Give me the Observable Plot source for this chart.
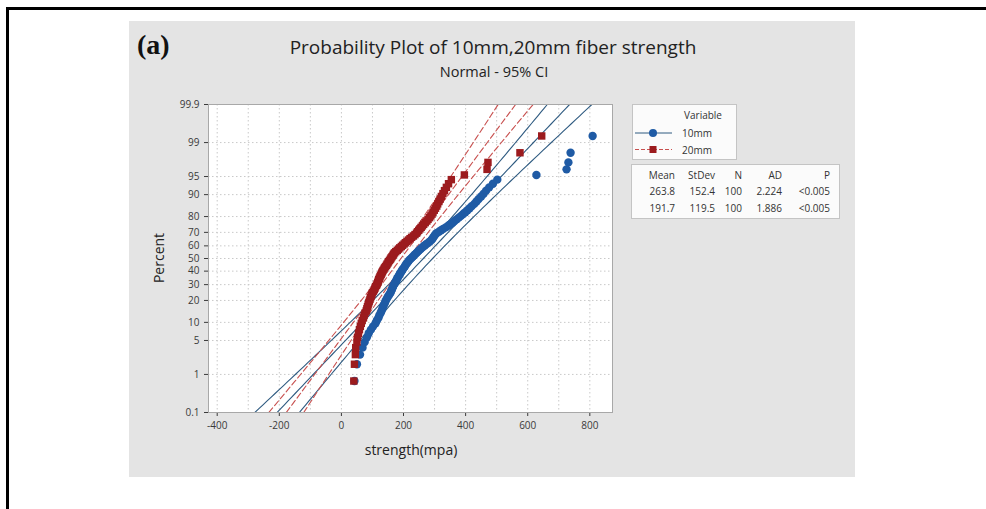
<!DOCTYPE html>
<html>
<head>
<meta charset="utf-8">
<script src="https://cdn.jsdelivr.net/npm/d3@7"></script>
<script src="https://cdn.jsdelivr.net/npm/@observablehq/plot@0.6"></script>
<style>
  html, body { margin: 0; padding: 0; background: #fff; }
  #wrap { position: relative; width: 986px; height: 509px; overflow: hidden; font-family: "Open Sans", sans-serif; color: #333; }
  .abs { position: absolute; white-space: nowrap; line-height: 1; }
  #border { position: absolute; left: 6px; top: 7px; width: 1000px; height: 600px; border-top: 3px solid #000; border-left: 3px solid #000; }
  #panel { position: absolute; left: 129px; top: 21px; width: 726px; height: 456px; background: #e4e4e4; }
  #chart { position: absolute; left: 0; top: 0; }
  .box { position: absolute; background: #fbfbfb; border: 1px solid #c4c4c4; }
</style>
</head>
<body>
<div id="wrap">
  <div id="border"></div>
  <div id="panel"></div>
  <div id="chart"></div>
</div>
<script>
// ---------- data ----------
const seriesNames = ["10mm", "20mm"];
const seriesColors = ["#1f5ba5", "#9c1b1e"];
const lineColors = ["#2e5a80", "#c8504f"];

// sorted strength values (MPa), 100 samples each
const values10mm = [
  42, 50, 60, 68, 75, 82, 88, 95, 102, 110,
  114, 119, 122, 126, 129, 132, 134, 137, 140, 142,
  145, 148, 151, 155, 158, 160, 162, 164, 166, 168,
  171, 173, 176, 178, 180, 183, 185, 188, 190, 193,
  195, 198, 201, 204, 206, 209, 212, 215, 218, 222,
  226, 230, 234, 238, 242, 246, 250, 255, 259, 264,
  269, 274, 280, 285, 290, 293, 296, 299, 302, 306,
  314, 321, 328, 336, 344, 351, 358, 364, 371, 378,
  385, 392, 399, 406, 413, 420, 428, 435, 442, 450,
  458, 466, 476, 488, 502,
  628, 725, 731, 738, 809
];
const values20mm = [
  40, 42, 45, 46, 50, 52, 55, 58, 61, 64,
  67, 71, 73, 76, 80, 82, 84, 86, 88, 90,
  92, 94, 96, 98, 100, 103, 106, 108, 110, 113,
  115, 117, 119, 120, 122, 124, 126, 128, 130, 132,
  134, 137, 139, 142, 145, 147, 150, 152, 155, 158,
  160, 163, 166, 168, 171, 175, 180, 184, 188, 193,
  197, 202, 206, 211, 216, 221, 226, 232, 237, 242,
  245, 249, 253, 257, 261, 265, 270, 275, 279, 284,
  288, 292, 295, 299, 303, 307, 310, 314, 318, 322,
  327, 332, 338, 345, 354,
  396, 469, 472, 575, 645
];

// summary statistics shown in the table
const statHeaders = ["Mean", "StDev", "N", "AD", "P"];
const statMean = [263.8, 191.7];
const statStDev = [152.4, 119.5];
const statN = [100, 100];
const statAD = ["2.224", "1.886"];
const statP = ["<0.005", "<0.005"];

// axis ticks
const xTicks = [-400, -200, 0, 200, 400, 600, 800];
const xGrid = [-400, -300, -200, -100, 0, 100, 200, 300, 400, 500, 600, 700, 800];
const yTickPercents = [0.1, 1, 5, 10, 20, 30, 40, 50, 60, 70, 80, 90, 95, 99, 99.9];
const yTickLabels = ["0.1", "1", "5", "10", "20", "30", "40", "50", "60", "70", "80", "90", "95", "99", "99.9"];

// texts
const tagText = "(a)";
const titleText = "Probability Plot of 10mm,20mm fiber strength";
const subtitleText = "Normal - 95% CI";
const xLabel = "strength(mpa)";
const yLabel = "Percent";
const legendTitle = "Variable";

// ---------- helpers ----------
function probit(p) {
  const a = [-3.969683028665376e+01, 2.209460984245205e+02, -2.759285104469687e+02, 1.383577518672690e+02, -3.066479806614716e+01, 2.506628277459239e+00];
  const b = [-5.447609879822406e+01, 1.615858368580409e+02, -1.556989798598866e+02, 6.680131188771972e+01, -1.328068155288572e+01];
  const c = [-7.784894002430293e-03, -3.223964580411365e-01, -2.400758277161838e+00, -2.549732539343734e+00, 4.374664141464968e+00, 2.938163982698783e+00];
  const d = [7.784695709041462e-03, 3.224671290700398e-01, 2.445134137142996e+00, 3.754408661907416e+00];
  const pl = 0.02425, ph = 1 - pl;
  let q, r;
  if (p < pl) {
    q = Math.sqrt(-2 * Math.log(p));
    return (((((c[0]*q+c[1])*q+c[2])*q+c[3])*q+c[4])*q+c[5]) / ((((d[0]*q+d[1])*q+d[2])*q+d[3])*q+1);
  } else if (p <= ph) {
    q = p - 0.5; r = q * q;
    return (((((a[0]*r+a[1])*r+a[2])*r+a[3])*r+a[4])*r+a[5])*q / (((((b[0]*r+b[1])*r+b[2])*r+b[3])*r+b[4])*r+1);
  } else {
    q = Math.sqrt(-2 * Math.log(1 - p));
    return -(((((c[0]*q+c[1])*q+c[2])*q+c[3])*q+c[4])*q+c[5]) / ((((d[0]*q+d[1])*q+d[2])*q+d[3])*q+1);
  }
}

const zLo = probit(0.001), zHi = probit(0.999);
const yTickPos = yTickPercents.map(t => probit(t / 100));

// Minitab median-rank plotting positions
function points(vals, name) {
  const n = vals.length;
  return vals.map((v, i) => ({ series: name, x: v, z: probit((i + 1 - 0.3) / (n + 0.4)) }));
}
const pts10 = points(values10mm, seriesNames[0]);
const pts20 = points(values20mm, seriesNames[1]);

// fitted line and 95% confidence band from mean / stdev / N
function band(k) {
  const mu = statMean[k], sd = statStDev[k], n = statN[k];
  const steps = 80;
  const out = [];
  for (let j = 0; j <= steps; j++) {
    const z = zLo + (zHi - zLo) * j / steps;
    const se = sd * Math.sqrt(1 / n + z * z / (2 * n));
    out.push({ z, fit: mu + sd * z, lo: mu + sd * z - 1.96 * se, hi: mu + sd * z + 1.96 * se });
  }
  return out;
}
const band10 = band(0), band20 = band(1);

const gridStroke = "#c9c9c9";
const dash20 = "6,3";

const chart = Plot.plot({
  width: 986,
  height: 509,
  marginLeft: 208,
  marginRight: 374,
  marginTop: 104,
  marginBottom: 97,
  style: { background: "transparent", fontFamily: "Open Sans, sans-serif", fontSize: "10px", color: "#3a3a3a" },
  x: { domain: [-428, 873], ticks: xTicks, tickSize: 4, label: null, line: false, tickFormat: d => String(d) },
  y: {
    domain: [zLo, zHi], ticks: yTickPos, tickSize: 4, label: null, line: false,
    tickFormat: d => { const i = yTickPos.findIndex(t => Math.abs(t - d) < 1e-9); return i >= 0 ? yTickLabels[i] : ""; }
  },
  marks: [
    Plot.frame({ fill: "white" }),
    Plot.ruleX(xGrid, { x: d => d, stroke: gridStroke, strokeDasharray: "1.5,2.5" }),
    Plot.ruleY(yTickPos, { y: d => d, stroke: gridStroke, strokeDasharray: "1.5,2.5" }),
    // 10mm fit + CI (solid)
    Plot.line(band10, { x: "lo", y: "z", stroke: lineColors[0], strokeWidth: 1.1, clip: true }),
    Plot.line(band10, { x: "fit", y: "z", stroke: lineColors[0], strokeWidth: 1.1, clip: true }),
    Plot.line(band10, { x: "hi", y: "z", stroke: lineColors[0], strokeWidth: 1.1, clip: true }),
    // 20mm fit + CI (dashed)
    Plot.line(band20, { x: "lo", y: "z", stroke: lineColors[1], strokeWidth: 1.1, strokeDasharray: dash20, clip: true }),
    Plot.line(band20, { x: "fit", y: "z", stroke: lineColors[1], strokeWidth: 1.1, strokeDasharray: dash20, clip: true }),
    Plot.line(band20, { x: "hi", y: "z", stroke: lineColors[1], strokeWidth: 1.1, strokeDasharray: dash20, clip: true }),
    // points
    Plot.dot(pts10, { x: "x", y: "z", r: 4.2, symbol: "circle", fill: seriesColors[0], stroke: "none" }),
    Plot.dot(pts20, { x: "x", y: "z", r: 4.2, symbol: "square", fill: seriesColors[1], stroke: "none" }),
    Plot.frame({ stroke: "#a8a8a8" })
  ]
});
document.getElementById("chart").appendChild(chart);

// ---------- surrounding texts, legend and statistics table ----------
const wrap = document.getElementById("wrap");
function addText(txt, css) {
  const el = document.createElement("div");
  el.className = "abs";
  el.textContent = txt;
  Object.assign(el.style, css);
  wrap.appendChild(el);
  return el;
}

addText(tagText, { left: "137px", top: "31px", fontFamily: "'Liberation Serif', serif", fontWeight: "bold", fontSize: "28px", color: "#111" });
addText(titleText, { left: "493px", top: "38px", transform: "translateX(-50%)", fontSize: "19px", color: "#222" });
addText(subtitleText, { left: "494px", top: "65px", transform: "translateX(-50%)", fontSize: "14.5px", color: "#222" });
addText(xLabel, { left: "411px", top: "443px", transform: "translateX(-50%)", fontSize: "14px", color: "#222" });
addText(yLabel, { left: "159px", top: "258px", transform: "translate(-50%,-50%) rotate(-90deg)", fontSize: "14px", color: "#222" });

// legend box
const box1 = document.createElement("div");
box1.className = "box";
Object.assign(box1.style, { left: "632px", top: "104px", width: "103px", height: "54px" });
wrap.appendChild(box1);
addText(legendTitle, { left: "703px", top: "110px", transform: "translateX(-50%)", fontSize: "10px", color: "#333" });

const svgNS = "http://www.w3.org/2000/svg";
const sw = document.createElementNS(svgNS, "svg");
sw.setAttribute("width", "50"); sw.setAttribute("height", "40");
Object.assign(sw.style, { position: "absolute", left: "630px", top: "122px" });
seriesNames.forEach((name, k) => {
  const cy = 11 + k * 16.5;
  const ln = document.createElementNS(svgNS, "line");
  ln.setAttribute("x1", 5); ln.setAttribute("x2", 42); ln.setAttribute("y1", cy); ln.setAttribute("y2", cy);
  ln.setAttribute("stroke", lineColors[k]); ln.setAttribute("stroke-width", 1);
  if (k === 1) ln.setAttribute("stroke-dasharray", "4,2");
  sw.appendChild(ln);
  if (k === 0) {
    const c = document.createElementNS(svgNS, "circle");
    c.setAttribute("cx", 23); c.setAttribute("cy", cy); c.setAttribute("r", 4); c.setAttribute("fill", seriesColors[k]);
    sw.appendChild(c);
  } else {
    const r = document.createElementNS(svgNS, "rect");
    r.setAttribute("x", 19.5); r.setAttribute("y", cy - 3.5); r.setAttribute("width", 7); r.setAttribute("height", 7); r.setAttribute("fill", seriesColors[k]);
    sw.appendChild(r);
  }
  addText(name, { left: "682px", top: (128 + k * 16.5) + "px", fontSize: "10px", color: "#333" });
});
wrap.appendChild(sw);

// statistics table
const box2 = document.createElement("div");
box2.className = "box";
Object.assign(box2.style, { left: "631px", top: "164px", width: "207px", height: "53px" });
wrap.appendChild(box2);
const colRight = [675, 715, 742, 782, 830];
const rowTop = [170, 186, 203];
statHeaders.forEach((h, j) => addText(h, { right: (986 - colRight[j]) + "px", top: rowTop[0] + "px", fontSize: "10px", color: "#333" }));
[0, 1].forEach(k => {
  const cells = [statMean[k].toFixed(1), statStDev[k].toFixed(1), String(statN[k]), statAD[k], statP[k]];
  cells.forEach((t, j) => addText(t, { right: (986 - colRight[j]) + "px", top: rowTop[k + 1] + "px", fontSize: "10px", color: "#333" }));
});
</script>
</body>
</html>
